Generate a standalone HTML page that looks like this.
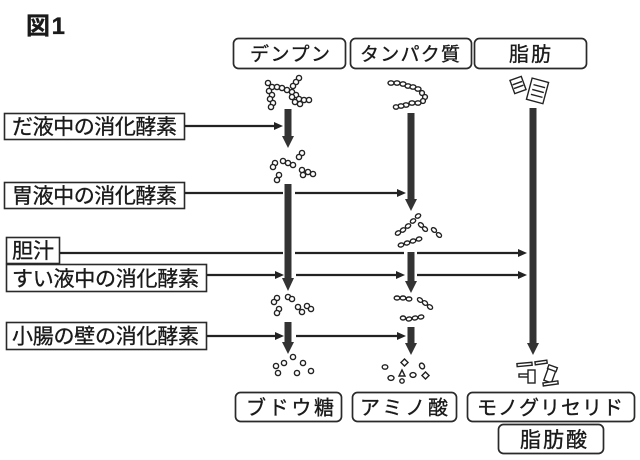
<!DOCTYPE html>
<html>
<head>
<meta charset="utf-8">
<style>
html,body{margin:0;padding:0;background:#fff;}
svg{display:block;}
text{font-family:"Liberation Sans","Noto Sans CJK JP",sans-serif;fill:#1a1a1a;stroke:#1a1a1a;stroke-width:0.35;}
</style>
</head>
<body>
<svg width="640" height="460" viewBox="0 0 640 460" xmlns="http://www.w3.org/2000/svg">
<rect width="640" height="460" fill="#fff"/>

<!-- Title -->
<text x="26" y="34" font-size="24" font-weight="bold" textLength="39" lengthAdjust="spacing">図1</text>

<!-- Top boxes -->
<g fill="none" stroke="#2a2a2a" stroke-width="1.7">
<rect x="233.5" y="38.5" width="112" height="30" rx="5"/>
<rect x="350.5" y="38.5" width="121" height="30" rx="5"/>
<rect x="474.5" y="38.5" width="112" height="30" rx="5"/>
</g>
<text x="250" y="60.5" font-size="19" textLength="80" lengthAdjust="spacing">デンプン</text>
<text x="360" y="60.5" font-size="19" textLength="100" lengthAdjust="spacing">タンパク質</text>
<text x="509" y="61" font-size="20" textLength="42" lengthAdjust="spacing">脂肪</text>

<!-- Left boxes -->
<g fill="none" stroke="#2a2a2a" stroke-width="1.6">
<rect x="4.5" y="113.5" width="180" height="26"/>
<rect x="4.5" y="182.5" width="180" height="26"/>
<rect x="6.5" y="237.5" width="53" height="26"/>
<rect x="6.5" y="264.5" width="200" height="27"/>
<rect x="6.5" y="322.5" width="200" height="27"/>
</g>
<text x="12" y="134" font-size="21" textLength="165" lengthAdjust="spacing">だ液中の消化酵素</text>
<text x="12" y="203" font-size="21" textLength="165" lengthAdjust="spacing">胃液中の消化酵素</text>
<text x="12" y="258" font-size="21" textLength="42" lengthAdjust="spacing">胆汁</text>
<text x="12" y="286" font-size="21" textLength="187" lengthAdjust="spacing">すい液中の消化酵素</text>
<text x="12" y="343.5" font-size="21" textLength="187" lengthAdjust="spacing">小腸の壁の消化酵素</text>

<!-- Bottom boxes -->
<g fill="none" stroke="#2a2a2a" stroke-width="1.7">
<rect x="235.5" y="392.5" width="106" height="29" rx="5"/>
<rect x="352.5" y="392.5" width="104" height="29" rx="5"/>
<rect x="467.5" y="392.5" width="167" height="29" rx="5"/>
<rect x="498.5" y="424.5" width="105" height="29" rx="5"/>
</g>
<text x="246" y="414.5" font-size="20" textLength="88" lengthAdjust="spacing">ブドウ糖</text>
<text x="360" y="414.5" font-size="20" textLength="88" lengthAdjust="spacing">アミノ酸</text>
<text x="477" y="414.5" font-size="20" textLength="146" lengthAdjust="spacing">モノグリセリド</text>
<text x="520" y="447" font-size="21" textLength="67" lengthAdjust="spacing">脂肪酸</text>

<!-- Thin horizontal lines -->
<g stroke="#222" stroke-width="2.3" fill="none">
<line x1="185" y1="126" x2="276" y2="126"/>
<line x1="185" y1="193" x2="283" y2="193"/>
<line x1="295" y1="193" x2="399" y2="193"/>
<line x1="60" y1="253" x2="283" y2="253"/>
<line x1="295" y1="253" x2="404" y2="253"/>
<line x1="417" y1="253" x2="520" y2="253"/>
<line x1="207" y1="275" x2="277" y2="275"/>
<line x1="296" y1="275" x2="398" y2="275"/>
<line x1="417" y1="275" x2="520" y2="275"/>
<line x1="207" y1="336" x2="277" y2="336"/>
<line x1="296" y1="336" x2="399" y2="336"/>
</g>
<g fill="#222">
<polygon points="283,126 274,122 274,130"/>
<polygon points="406,193 397,189 397,197"/>
<polygon points="527,253 518,249 518,257"/>
<polygon points="284,275 275,271 275,279"/>
<polygon points="405,275 396,271 396,279"/>
<polygon points="527,275 518,271 518,279"/>
<polygon points="284,336 275,332 275,340"/>
<polygon points="406,336 397,332 397,340"/>
</g>

<!-- Heavy vertical arrows -->
<g fill="#333">
<rect x="284.5" y="109" width="7" height="29"/>
<polygon points="282,136 294,136 288,148"/>
<rect x="284.5" y="184" width="7" height="95"/>
<polygon points="282,278 294,278 288,291"/>
<rect x="284.5" y="322" width="7" height="21"/>
<polygon points="282,342 294,342 288,354"/>

<rect x="407.5" y="113" width="7" height="87"/>
<polygon points="405,199 417,199 411,211"/>
<rect x="407.5" y="252" width="7" height="30"/>
<polygon points="405,281 417,281 411,293"/>
<rect x="407.5" y="327" width="7" height="17"/>
<polygon points="405,343 417,343 411,355"/>

<rect x="529.5" y="108" width="7" height="236"/>
<polygon points="527,343 539,343 533,355"/>
</g>

<!-- Molecules -->
<g fill="#fff" stroke="#222" stroke-width="1.4">
<!-- starch -->
<circle cx="268" cy="83" r="2.6"/><circle cx="272" cy="87" r="2.6"/><circle cx="269" cy="91" r="2.6"/>
<circle cx="272" cy="95" r="2.6"/><circle cx="270" cy="99" r="2.6"/><circle cx="273" cy="103" r="2.6"/>
<circle cx="271" cy="107" r="2.6"/>
<circle cx="277" cy="87" r="2.6"/><circle cx="282" cy="88" r="2.6"/><circle cx="287" cy="90" r="2.6"/>
<circle cx="292" cy="92" r="2.6"/><circle cx="296" cy="95" r="2.6"/><circle cx="299" cy="99" r="2.6"/>
<circle cx="304" cy="100" r="2.6"/><circle cx="309" cy="100" r="2.6"/>
<circle cx="299" cy="78" r="2.6"/><circle cx="296" cy="82" r="2.6"/><circle cx="293" cy="86" r="2.6"/>
<circle cx="292" cy="97" r="2.6"/><circle cx="295" cy="102" r="2.6"/><circle cx="300" cy="104" r="2.6"/>
<!-- after saliva -->
<circle cx="302" cy="153" r="2.6"/><circle cx="299" cy="157" r="2.6"/>
<circle cx="275" cy="163" r="2.6"/><circle cx="273" cy="167" r="2.6"/>
<circle cx="283" cy="161" r="2.6"/><circle cx="288" cy="163" r="2.6"/><circle cx="293" cy="165" r="2.6"/>
<circle cx="279" cy="175" r="2.6"/><circle cx="277" cy="180" r="2.6"/>
<circle cx="302" cy="170" r="2.6"/><circle cx="303" cy="175" r="2.6"/><circle cx="308" cy="172" r="2.6"/><circle cx="313" cy="174" r="2.6"/>
<!-- after pancreatic -->
<circle cx="277" cy="298" r="2.6"/><circle cx="274" cy="302" r="2.6"/>
<circle cx="288" cy="297" r="2.6"/><circle cx="292" cy="299" r="2.6"/>
<circle cx="279" cy="309" r="2.6"/><circle cx="277" cy="313" r="2.6"/>
<circle cx="298" cy="307" r="2.6"/><circle cx="302" cy="312" r="2.6"/><circle cx="307" cy="306" r="2.6"/><circle cx="311" cy="309" r="2.6"/>
<!-- glucose -->
<circle cx="276" cy="366" r="2.6"/><circle cx="284" cy="363" r="2.6"/><circle cx="293" cy="357" r="2.6"/>
<circle cx="303" cy="363" r="2.6"/><circle cx="278" cy="373" r="2.6"/><circle cx="297" cy="373" r="2.6"/>
<circle cx="311" cy="371" r="2.6"/>

<!-- protein -->
<ellipse cx="391" cy="83" rx="3" ry="2.2"/><ellipse cx="397" cy="83" rx="3" ry="2.2"/><ellipse cx="403" cy="84" rx="3" ry="2.2"/>
<ellipse cx="408" cy="86" rx="3" ry="2.2"/><ellipse cx="413" cy="87" rx="3" ry="2.2"/><ellipse cx="418" cy="89" rx="3" ry="2.2"/>
<circle cx="422" cy="93" r="2.4"/><circle cx="425" cy="97" r="2.4"/><circle cx="423" cy="101" r="2.4"/>
<ellipse cx="418" cy="103" rx="3" ry="2.2"/><ellipse cx="412" cy="103" rx="3" ry="2.2"/><ellipse cx="406" cy="105" rx="3" ry="2.2"/>
<ellipse cx="401" cy="106" rx="3" ry="2.2"/><ellipse cx="396" cy="107" rx="2.6" ry="2.2"/>
<!-- after pepsin -->
<ellipse cx="398" cy="233" rx="2.8" ry="2" transform="rotate(-30 398 233)"/>
<ellipse cx="403" cy="230" rx="2.8" ry="2" transform="rotate(-30 403 230)"/>
<ellipse cx="408" cy="226" rx="2.8" ry="2" transform="rotate(-30 408 226)"/>
<ellipse cx="413" cy="221" rx="2.8" ry="2" transform="rotate(-30 413 221)"/>
<ellipse cx="418" cy="216" rx="2.8" ry="2" transform="rotate(-30 418 216)"/>
<ellipse cx="421" cy="225" rx="2.8" ry="2" transform="rotate(40 421 225)"/>
<ellipse cx="425" cy="229" rx="2.8" ry="2" transform="rotate(40 425 229)"/>
<ellipse cx="434" cy="230" rx="2.8" ry="2" transform="rotate(40 434 230)"/>
<ellipse cx="439" cy="235" rx="2.8" ry="2" transform="rotate(40 439 235)"/>
<ellipse cx="401" cy="245" rx="2.8" ry="2" transform="rotate(-15 401 245)"/>
<ellipse cx="407" cy="243" rx="2.8" ry="2" transform="rotate(-15 407 243)"/>
<ellipse cx="413" cy="241" rx="2.8" ry="2" transform="rotate(-15 413 241)"/>
<ellipse cx="419" cy="239" rx="2.8" ry="2" transform="rotate(-15 419 239)"/>
<!-- after trypsin -->
<ellipse cx="397" cy="298" rx="2.8" ry="2"/><ellipse cx="403" cy="298" rx="2.8" ry="2"/><ellipse cx="409" cy="299" rx="2.8" ry="2"/>
<ellipse cx="420" cy="300" rx="2.8" ry="2" transform="rotate(35 420 300)"/>
<ellipse cx="425" cy="303" rx="2.8" ry="2" transform="rotate(35 425 303)"/>
<ellipse cx="430" cy="307" rx="2.8" ry="2" transform="rotate(35 430 307)"/>
<ellipse cx="403" cy="318" rx="2.6" ry="2"/><ellipse cx="409" cy="319" rx="2.8" ry="2" transform="rotate(-10 409 319)"/>
<ellipse cx="415" cy="318" rx="2.8" ry="2" transform="rotate(-10 415 318)"/><ellipse cx="421" cy="317" rx="2.8" ry="2" transform="rotate(-10 421 317)"/>
<!-- amino acids -->
<ellipse cx="385" cy="367" rx="2.8" ry="2.2"/>
<rect x="402" y="360" width="5" height="5" transform="rotate(45 404.5 362.5)"/>
<ellipse cx="422" cy="366" rx="2.4" ry="3" transform="rotate(-30 422 366)"/>
<polygon points="402,370 405,376 399,376"/>
<ellipse cx="413" cy="375" rx="3" ry="2.4"/>
<rect x="423" y="373" width="5" height="5" transform="rotate(45 425.5 375.5)"/>
<ellipse cx="391" cy="378" rx="3" ry="2.4"/>
<circle cx="402" cy="381" r="2.2"/>

<!-- fat top -->
<g transform="rotate(-20 518 85)">
<rect x="512" y="78" width="12" height="14"/>
<line x1="513" y1="83" x2="523" y2="83"/><line x1="513" y1="87" x2="523" y2="87"/>
</g>
<g transform="rotate(15 538 91)">
<rect x="529" y="80" width="17" height="22"/>
<line x1="532" y1="86" x2="544" y2="86"/><line x1="532" y1="91" x2="544" y2="91"/><line x1="532" y1="96" x2="544" y2="96"/>
</g>
<!-- monoglyceride / fatty acids -->
<rect x="517" y="363" width="15" height="3" transform="rotate(-5 524 364)"/>
<rect x="535" y="361" width="12" height="3" transform="rotate(-8 541 362)"/>
<rect x="519" y="374" width="13" height="3"/>
<rect x="528" y="370" width="7" height="13"/>
<rect x="546" y="368" width="8" height="14" transform="rotate(20 550 375)"/>
<rect x="548" y="366" width="9" height="4" transform="rotate(20 552 368)"/>
<rect x="543" y="382" width="15" height="3" transform="rotate(-8 550 383)"/>
</g>
</svg>
</body>
</html>
